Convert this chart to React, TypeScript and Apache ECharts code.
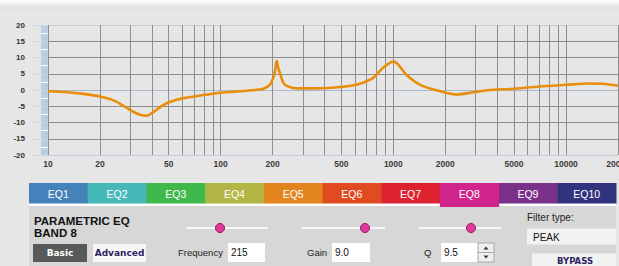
import React, { useEffect, useRef } from 'react';
import * as echarts from 'echarts';

// Frequency response curve (Hz, dB)
const freqHz = [10, 13, 16, 20, 24, 28, 32, 35, 37.5, 40, 44, 49, 55, 61, 76, 97, 120, 150, 177, 193, 199, 204.4, 208, 211, 215, 222, 228, 235.5, 258, 290, 360, 500, 610, 700, 763, 870, 950, 1000, 1067, 1190, 1430, 1870, 2320, 2900, 3600, 5000, 7000, 10000, 13600, 16300, 20000];
const gainDb = [-0.4, -0.7, -1.2, -2.0, -3.2, -5.2, -7.0, -7.8, -7.9, -7.1, -5.5, -4.0, -3.1, -2.5, -1.7, -0.9, -0.5, -0.1, 0.4, 1.6, 3.0, 4.7, 7.0, 9.0, 7.0, 4.7, 2.8, 1.6, 0.7, 0.5, 0.5, 0.9, 1.6, 2.7, 3.7, 6.8, 8.3, 8.8, 7.8, 4.7, 1.6, -0.4, -1.4, -0.7, 0.0, 0.4, 1.1, 1.6, 2.0, 1.9, 1.3];

const xGridFreqs = [10, 20, 30, 40, 50, 60, 70, 80, 90, 100, 200, 300, 400, 500, 600, 700, 800, 900, 1000, 2000, 3000, 4000, 5000, 6000, 7000, 8000, 9000, 10000, 20000];
const xLabelFreqs = [10, 20, 50, 100, 200, 500, 1000, 2000, 5000, 10000, 20000];
const yMin = -20;
const yMax = 20;
const yStep = 5;

const bandNames = ['EQ1', 'EQ2', 'EQ3', 'EQ4', 'EQ5', 'EQ6', 'EQ7', 'EQ8', 'EQ9', 'EQ10'];
const bandColors = ['#4482bb', '#47b8b8', '#3fb84c', '#b2b645', '#e3841f', '#e04b22', '#df2230', '#cf258c', '#7b3189', '#31337f'];
const selectedBand = 7;

const panelTitle = ['PARAMETRIC EQ', 'BAND 8'];
const frequencyValue = '215';
const gainValue = '9.0';
const qValue = '9.5';
const filterType = 'PEAK';

const SANS = '"Liberation Sans", Arial, sans-serif';
const VERD = '"DejaVu Sans", Verdana, sans-serif';

export default function App() {
  const ref = useRef<HTMLDivElement>(null);

  useEffect(() => {
    document.body.style.margin = '0';
    const chart = echarts.init(ref.current!, null, { renderer: 'svg' });

    const tabX0 = 29;
    const tabW = 58.7;
    const tabs: any[] = [];
    bandNames.forEach((name, i) => {
      const sel = i === selectedBand;
      tabs.push({
        type: 'rect',
        shape: { x: tabX0 + i * tabW, y: 183, width: tabW + 0.5, height: sel ? 24 : 20.5 },
        style: { fill: bandColors[i] },
        z: sel ? 12 : 10,
      });
      tabs.push({
        type: 'text',
        x: tabX0 + i * tabW + tabW / 2,
        y: 194,
        style: { text: name, fill: '#ffffff', fontSize: 10.5, fontFamily: SANS, textAlign: 'center', textVerticalAlign: 'middle' },
        z: 13,
      });
    });

    const slider = (x1: number, x2: number, knob: number) => [
      { type: 'rect', shape: { x: x1, y: 227, width: x2 - x1, height: 2 }, style: { fill: '#f7f7f7' }, z: 11 },
      { type: 'circle', shape: { cx: knob, cy: 228, r: 4.5 }, style: { fill: '#e2389e', stroke: '#8e1b5e', lineWidth: 1 }, z: 12 },
    ];
    const input = (x1: number, x2: number, val: string) => [
      { type: 'rect', shape: { x: x1, y: 243, width: x2 - x1, height: 19 }, style: { fill: '#ffffff' }, z: 11 },
      { type: 'text', x: x1 + 3, y: 252.5, style: { text: val, fill: '#111', fontSize: 10, fontFamily: SANS, textVerticalAlign: 'middle' }, z: 12 },
    ];
    const label = (x: number, y: number, text: string, size = 9.5) => ({
      type: 'text', x, y,
      style: { text, fill: '#222', fontSize: size, fontFamily: SANS, textVerticalAlign: 'middle' }, z: 12,
    });

    chart.setOption({
      animation: false,
      backgroundColor: '#e6e6e6',
      grid: { left: 48, right: 1, top: 25, bottom: 111, containLabel: false, outerBoundsMode: 'none' },
      xAxis: {
        type: 'log',
        logBase: 10,
        min: 10,
        max: 20000,
        axisLine: { show: false },
        axisTick: { show: false, customValues: xGridFreqs },
        axisLabel: {
          customValues: xLabelFreqs,
          formatter: (v: number) => String(Math.round(v)),
          fontSize: 8.5,
          fontWeight: 'bold',
          fontFamily: SANS,
          color: '#3a3a3a',
          margin: 4,
        },
        splitLine: { show: true, lineStyle: { color: '#8f8f8f', width: 1 } },
        minorSplitLine: { show: false },
      },
      yAxis: {
        type: 'value',
        min: yMin,
        max: yMax,
        interval: yStep,
        axisLine: { show: false },
        axisTick: { show: true, length: 14, lineStyle: { color: '#d2d6da' } },
        minorTick: { show: true, splitNumber: 2, length: 7, lineStyle: { color: '#ffffff' } },
        axisLabel: {
          fontSize: 8,
          fontWeight: 'bold',
          fontFamily: SANS,
          color: '#333',
          margin: 23,
        },
        splitLine: {
          show: true,
          lineStyle: {
            color: ['#bccadb', '#8c8c8c', '#8c8c8c', '#8c8c8c', '#a9b9cc', '#8c8c8c', '#8c8c8c', '#8c8c8c', '#cccccc'],
            width: 1,
          },
        },
      },
      series: [
        {
          type: 'line',
          data: freqHz.map((f, i) => [f, gainDb[i]]),
          smooth: 0.3,
          symbol: 'none',
          lineStyle: { color: '#e88e0c', width: 2.6 },
          z: 5,
        },
      ],
      graphic: [
        {
          type: 'rect',
          shape: { x: 0, y: 0, width: 619, height: 9 },
          style: {
            fill: new echarts.graphic.LinearGradient(0, 0, 0, 1, [
              { offset: 0, color: '#ffffff' },
              { offset: 1, color: '#dedede' },
            ]),
          },
          z: -1,
        },
        { type: 'rect', shape: { x: 41, y: 25, width: 7, height: 130 }, style: { fill: '#bccfe0' }, z: -1 },
        // band tabs
        { type: 'rect', shape: { x: 29, y: 203, width: 587, height: 3 }, style: { fill: '#ffffff' }, z: 9 },
        { type: 'rect', shape: { x: 29, y: 206, width: 587, height: 60 }, style: { fill: '#d7d7d7' }, z: 9 },
        ...tabs,
        // panel title
        { type: 'text', x: 34, y: 221, style: { text: panelTitle[0], fill: '#111', fontSize: 11.5, fontWeight: 'bold', fontFamily: SANS, textVerticalAlign: 'middle' }, z: 12 },
        { type: 'text', x: 34, y: 233, style: { text: panelTitle[1], fill: '#111', fontSize: 11.5, fontWeight: 'bold', fontFamily: SANS, textVerticalAlign: 'middle' }, z: 12 },
        // buttons
        { type: 'rect', shape: { x: 33, y: 244, width: 54, height: 18 }, style: { fill: '#595959' }, z: 11 },
        { type: 'text', x: 60, y: 253, style: { text: 'Basic', fill: '#ffffff', fontSize: 9, fontWeight: 'bold', fontFamily: VERD, textAlign: 'center', textVerticalAlign: 'middle' }, z: 12 },
        { type: 'rect', shape: { x: 93, y: 244, width: 53, height: 18 }, style: { fill: '#f6f6f6' }, z: 11 },
        { type: 'text', x: 119.5, y: 253, style: { text: 'Advanced', fill: '#2e1f5e', fontSize: 9, fontWeight: 'bold', fontFamily: VERD, textAlign: 'center', textVerticalAlign: 'middle' }, z: 12 },
        // sliders
        ...slider(186, 268, 220),
        ...slider(302, 385, 365),
        ...slider(419, 501, 471),
        // inputs
        label(178, 252.5, 'Frequency'),
        ...input(228, 265, frequencyValue),
        label(307, 252.5, 'Gain'),
        ...input(332, 370, gainValue),
        label(424, 252.5, 'Q'),
        ...input(441, 478, qValue),
        { type: 'rect', shape: { x: 478, y: 243, width: 16, height: 19 }, style: { fill: '#efefef', stroke: '#a8a8a8', lineWidth: 1 }, z: 11 },
        { type: 'line', shape: { x1: 478, y1: 252.5, x2: 494, y2: 252.5 }, style: { stroke: '#a8a8a8', lineWidth: 1 }, z: 12 },
        { type: 'polygon', shape: { points: [[483.5, 249.5], [488.5, 249.5], [486, 246.5]] }, style: { fill: '#333' }, z: 12 },
        { type: 'polygon', shape: { points: [[483.5, 255.5], [488.5, 255.5], [486, 258.5]] }, style: { fill: '#333' }, z: 12 },
        // filter type
        label(527, 217.5, 'Filter type:', 10),
        { type: 'rect', shape: { x: 527, y: 228.5, width: 89, height: 16 }, style: { fill: '#f2f2f2' }, z: 11 },
        { type: 'text', x: 533, y: 237, style: { text: filterType, fill: '#111', fontSize: 10, fontFamily: SANS, textVerticalAlign: 'middle' }, z: 12 },
        { type: 'rect', shape: { x: 532, y: 253.5, width: 84, height: 13 }, style: { fill: '#f2f2f2' }, z: 11 },
        { type: 'text', x: 575, y: 261, style: { text: 'BYPASS', fill: '#2e1f5e', fontSize: 8.5, fontWeight: 'bold', fontFamily: VERD, textAlign: 'center', textVerticalAlign: 'middle' }, z: 12 },
      ],
    });

    return () => chart.dispose();
  }, []);

  return <div ref={ref} style={{ width: 619, height: 266 }} />;
}
